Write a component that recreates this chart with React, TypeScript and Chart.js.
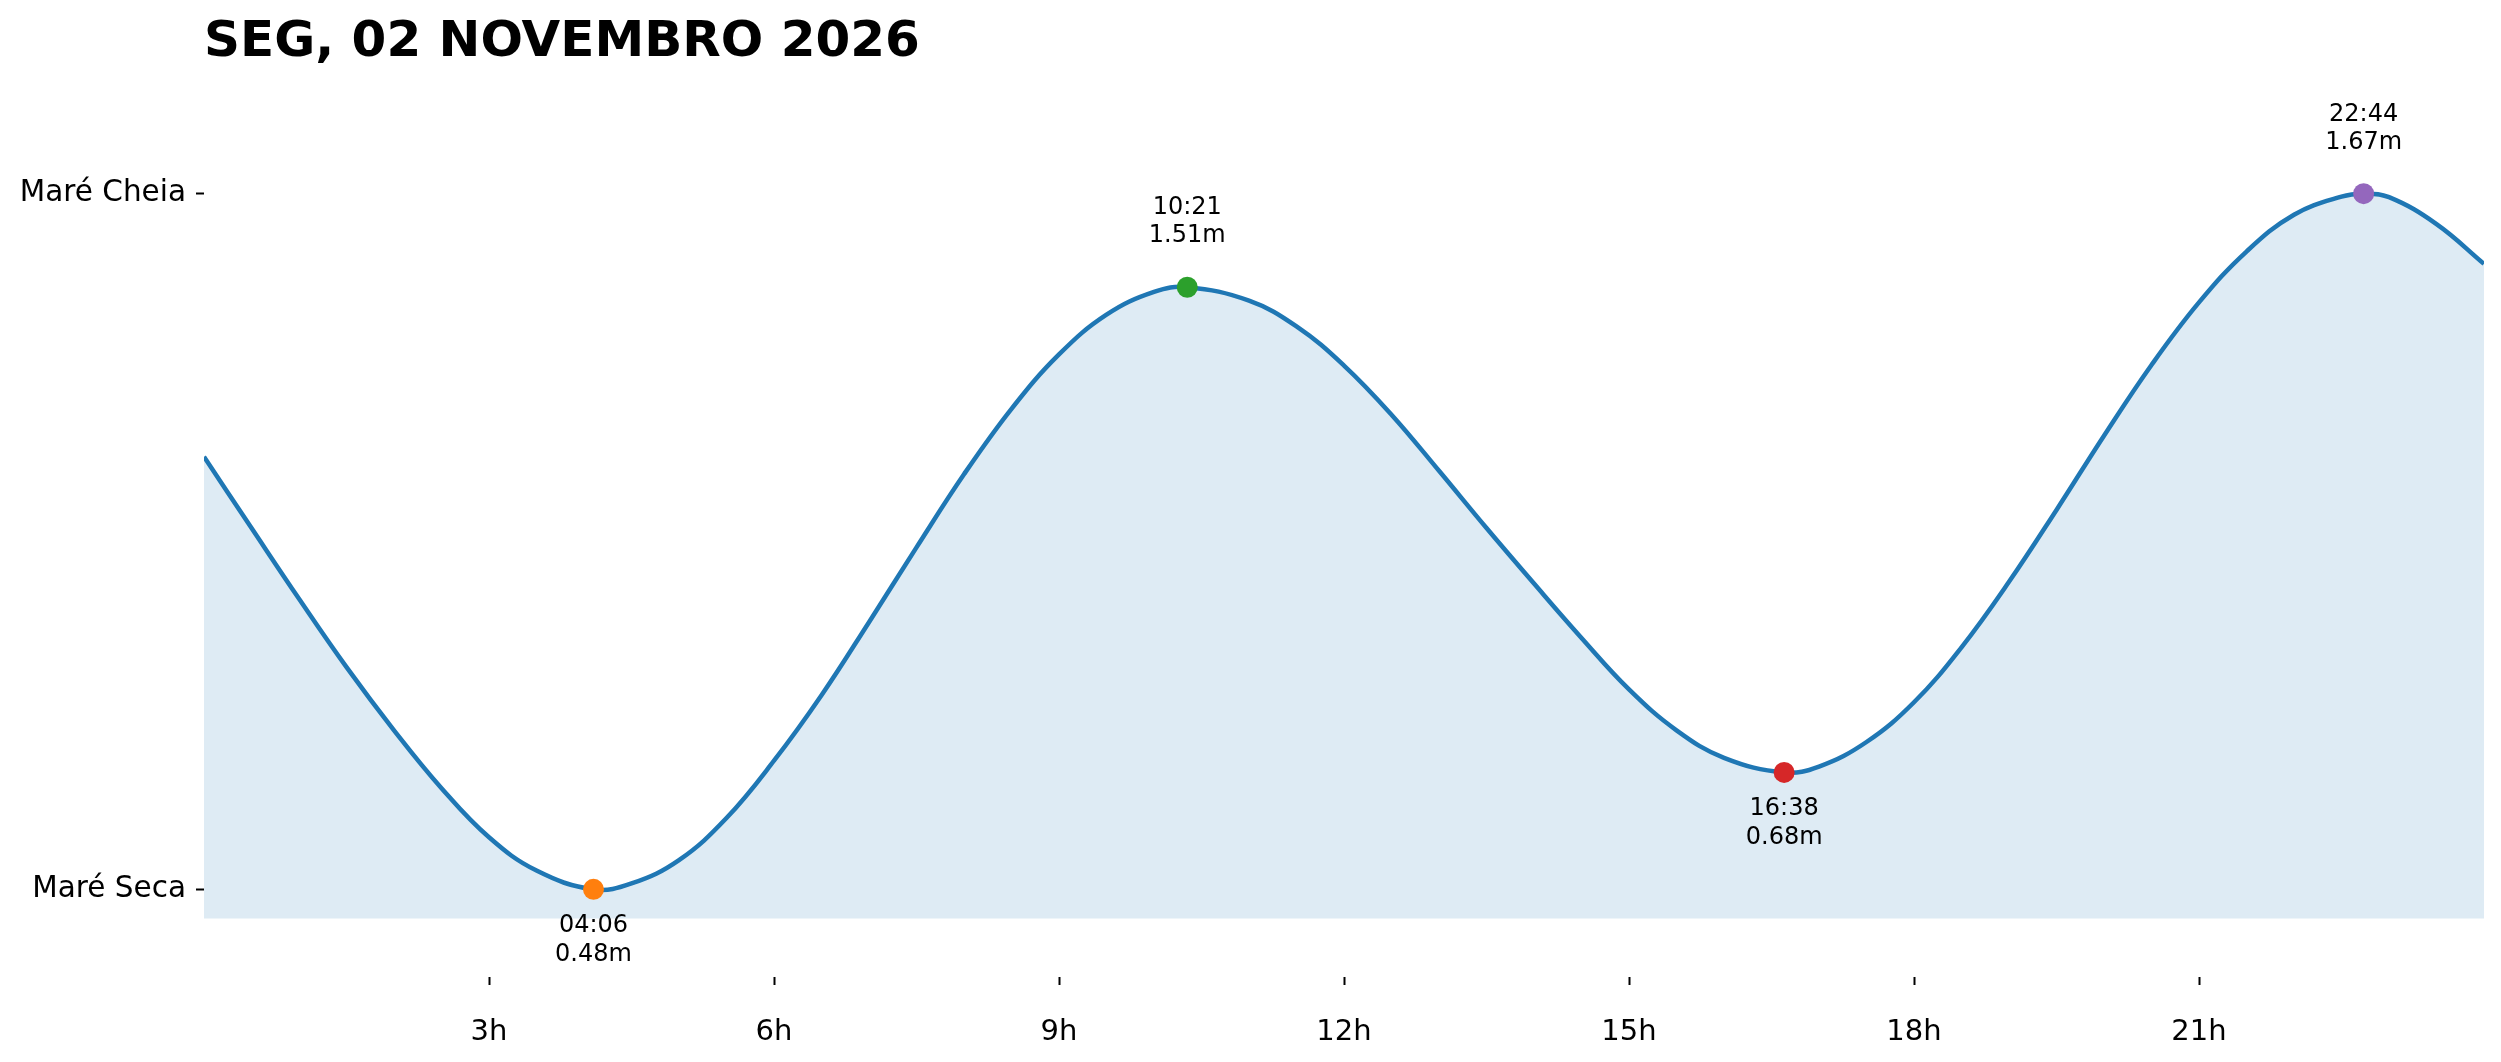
import { useEffect, useRef } from "react";
import { Chart, registerables } from "chart.js";

Chart.register(...registerables);

// tide curve (hours since midnight, metres)
const hours = [
  0, 0.5, 1, 1.5, 2, 2.5, 3, 3.5, 4.1, 4.5, 5, 5.5, 6, 6.5, 7, 7.5, 8, 8.5, 9, 9.5, 10, 10.35, 11, 11.5, 12, 12.5, 13,
  13.5, 14, 14.5, 15, 15.5, 16, 16.633, 17, 17.5, 18, 18.5, 19, 19.5, 20, 20.5, 21, 21.5, 22, 22.5, 22.733, 23, 23.5,
  24,
];
const heights = [
  1.22, 1.098, 0.977, 0.86, 0.752, 0.653, 0.569, 0.512, 0.48, 0.49, 0.53, 0.602, 0.7, 0.812, 0.937, 1.065, 1.19, 1.302,
  1.395, 1.463, 1.502, 1.51, 1.487, 1.443, 1.376, 1.292, 1.196, 1.098, 1.003, 0.91, 0.822, 0.752, 0.705, 0.68, 0.69,
  0.732, 0.8, 0.894, 1.006, 1.129, 1.256, 1.377, 1.484, 1.571, 1.634, 1.665, 1.67, 1.664, 1.618, 1.55,
];

// high / low tide markers
const extremeHours = [4.1, 10.35, 16.633, 22.733];
const extremeHeights = [0.48, 1.51, 0.68, 1.67];
const extremeTimes = ["04:06", "10:21", "16:38", "22:44"];
const extremeKinds = ["low", "high", "low", "high"];
const extremeColors = ["#ff7f0e", "#2ca02c", "#d62728", "#9467bd"];

const xTicks = [3, 6, 9, 12, 15, 18, 21];
const yTicks = [0.48, 1.67];
const yTickLabels = ["Maré Seca", "Maré Cheia"];
const title = "SEG, 02 NOVEMBRO 2026";

const FONT = "'DejaVu Sans', 'Liberation Sans', sans-serif";

export default function App() {
  const canvasRef = useRef<HTMLCanvasElement | null>(null);

  useEffect(() => {
    if (!canvasRef.current) return;
    const ctx = canvasRef.current.getContext("2d");
    if (!ctx) return;

    // title drawn at the left edge of the plot area
    const titlePlugin = {
      id: "titleText",
      afterDraw(chart: any) {
        const c = chart.ctx;
        c.save();
        c.font = `bold 50px ${FONT}`;
        c.fillStyle = "#000";
        c.textAlign = "left";
        c.textBaseline = "alphabetic";
        c.fillText(title, chart.chartArea.left, 56);
        c.restore();
      },
    };

    // time + height labels next to each extreme
    const extremeLabels = {
      id: "extremeLabels",
      afterDatasetsDraw(chart: any) {
        const c = chart.ctx;
        const xs = chart.scales.x;
        const ys = chart.scales.y;
        c.save();
        c.font = `24px ${FONT}`;
        c.fillStyle = "#000";
        c.textAlign = "center";
        c.textBaseline = "middle";
        extremeHours.forEach((h, i) => {
          const px = xs.getPixelForValue(h);
          const py = ys.getPixelForValue(extremeHeights[i]);
          const hText = extremeHeights[i].toFixed(2) + "m";
          if (extremeKinds[i] === "high") {
            c.fillText(extremeTimes[i], px, py - 79);
            c.fillText(hText, px, py - 51);
          } else {
            c.fillText(extremeTimes[i], px, py + 36);
            c.fillText(hText, px, py + 65);
          }
        });
        c.restore();
      },
    };

    const chartInstance = new Chart(ctx, {
      type: "line",
      data: {
        datasets: [
          {
            type: "scatter",
            data: extremeHours.map((h, i) => ({ x: h, y: extremeHeights[i] })),
            pointRadius: 10.5,
            pointHoverRadius: 10.5,
            pointBackgroundColor: extremeColors,
            pointBorderWidth: 0,
            order: 0,
          },
          {
            type: "line",
            data: hours.map((h, i) => ({ x: h, y: heights[i] })),
            borderColor: "#1f77b4",
            borderWidth: 4.5,
            pointRadius: 0,
            tension: 0.4,
            fill: { value: 0.43 },
            backgroundColor: "rgba(31,119,180,0.15)",
            order: 1,
          },
        ],
      } as any,
      options: {
        responsive: false,
        animation: false,
        devicePixelRatio: 1,
        events: [],
        layout: { padding: { top: 106, right: 17, left: 0, bottom: 0 } },
        plugins: {
          legend: { display: false },
          tooltip: { enabled: false },
          title: { display: false },
        },
        scales: {
          x: {
            type: "linear",
            min: 0,
            max: 24,
            afterBuildTicks: (scale: any) => {
              scale.ticks = xTicks.map((v) => ({ value: v }));
            },
            afterFit: (scale: any) => {
              scale.height = 85;
            },
            ticks: {
              autoSkip: false,
              maxRotation: 0,
              padding: 30,
              color: "#000",
              font: { family: FONT, size: 29 },
              callback: (v: any) => `${v}h`,
            },
            grid: {
              drawOnChartArea: false,
              drawTicks: true,
              tickLength: 8,
              tickColor: "#000",
              tickWidth: 2,
            },
            border: { display: false },
          },
          y: {
            type: "linear",
            min: 0.33,
            max: 1.82,
            afterBuildTicks: (scale: any) => {
              scale.ticks = yTicks.map((v) => ({ value: v }));
            },
            afterFit: (scale: any) => {
              scale.width = 204;
            },
            ticks: {
              padding: 10,
              color: "#000",
              font: { family: FONT, size: 29.5 },
              callback: (v: any) => {
                const i = yTicks.indexOf(Number(v));
                return i >= 0 ? yTickLabels[i] : "";
              },
            },
            grid: {
              drawOnChartArea: false,
              drawTicks: true,
              tickLength: 8,
              tickColor: "#000",
              tickWidth: 2,
            },
            border: { display: false },
          },
        },
      } as any,
      plugins: [titlePlugin, extremeLabels],
    });

    return () => {
      chartInstance.destroy();
    };
  }, []);

  return (
    <div style={{ position: "absolute", left: 0, top: 0, width: 2501, height: 1062, background: "#fff" }}>
      <canvas ref={canvasRef} width={2501} height={1062}></canvas>
    </div>
  );
}
